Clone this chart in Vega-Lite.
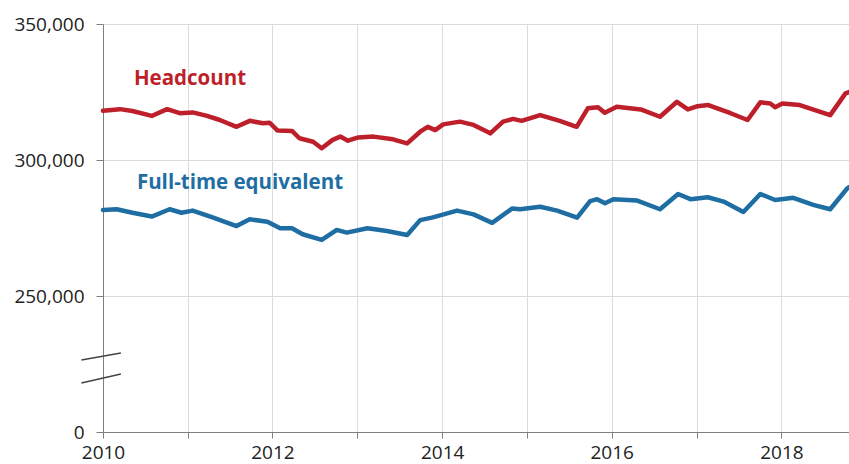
{
  "$schema": "https://vega.github.io/schema/vega-lite/v6.json",
  "width": 746,
  "height": 408,
  "autosize": {"type": "none"},
  "padding": {"left": 103, "top": 24, "right": 0, "bottom": 32},
  "background": "white",
  "config": {
    "view": {"stroke": null},
    "axis": {
      "labelFont": "Open Sans",
      "labelFontSize": 19,
      "labelColor": "#222222",
      "domainColor": "#7f7f7f",
      "tickColor": "#7f7f7f",
      "gridColor": "#dcdcdc",
      "gridWidth": 1,
      "title": null
    }
  },
  "datasets": {
    "series": [
      {"date": "2010-01-01", "series": "Headcount", "value": 318100},
      {"date": "2010-03-15", "series": "Headcount", "value": 318700},
      {"date": "2010-05-08", "series": "Headcount", "value": 318000},
      {"date": "2010-07-30", "series": "Headcount", "value": 316200},
      {"date": "2010-10-04", "series": "Headcount", "value": 318700},
      {"date": "2010-11-28", "series": "Headcount", "value": 317200},
      {"date": "2011-01-22", "series": "Headcount", "value": 317500},
      {"date": "2011-03-25", "series": "Headcount", "value": 316200},
      {"date": "2011-05-19", "series": "Headcount", "value": 314700},
      {"date": "2011-07-30", "series": "Headcount", "value": 312200},
      {"date": "2011-09-25", "series": "Headcount", "value": 314400},
      {"date": "2011-11-21", "series": "Headcount", "value": 313500},
      {"date": "2011-12-20", "series": "Headcount", "value": 313700},
      {"date": "2012-01-23", "series": "Headcount", "value": 310800},
      {"date": "2012-03-25", "series": "Headcount", "value": 310700},
      {"date": "2012-04-26", "series": "Headcount", "value": 308000},
      {"date": "2012-06-24", "series": "Headcount", "value": 306700},
      {"date": "2012-07-31", "series": "Headcount", "value": 304300},
      {"date": "2012-09-16", "series": "Headcount", "value": 307400},
      {"date": "2012-10-19", "series": "Headcount", "value": 308600},
      {"date": "2012-11-21", "series": "Headcount", "value": 307100},
      {"date": "2013-01-05", "series": "Headcount", "value": 308300},
      {"date": "2013-03-11", "series": "Headcount", "value": 308600},
      {"date": "2013-06-03", "series": "Headcount", "value": 307600},
      {"date": "2013-08-03", "series": "Headcount", "value": 306100},
      {"date": "2013-09-28", "series": "Headcount", "value": 310400},
      {"date": "2013-10-31", "series": "Headcount", "value": 312200},
      {"date": "2013-12-02", "series": "Headcount", "value": 311000},
      {"date": "2014-01-05", "series": "Headcount", "value": 313100},
      {"date": "2014-03-18", "series": "Headcount", "value": 314100},
      {"date": "2014-05-16", "series": "Headcount", "value": 312900},
      {"date": "2014-07-27", "series": "Headcount", "value": 309800},
      {"date": "2014-09-20", "series": "Headcount", "value": 314100},
      {"date": "2014-11-02", "series": "Headcount", "value": 315100},
      {"date": "2014-12-09", "series": "Headcount", "value": 314400},
      {"date": "2015-02-27", "series": "Headcount", "value": 316500},
      {"date": "2015-05-22", "series": "Headcount", "value": 314400},
      {"date": "2015-08-03", "series": "Headcount", "value": 312200},
      {"date": "2015-09-20", "series": "Headcount", "value": 319000},
      {"date": "2015-11-03", "series": "Headcount", "value": 319400},
      {"date": "2015-12-02", "series": "Headcount", "value": 317400},
      {"date": "2016-01-23", "series": "Headcount", "value": 319600},
      {"date": "2016-05-05", "series": "Headcount", "value": 318600},
      {"date": "2016-07-27", "series": "Headcount", "value": 315900},
      {"date": "2016-10-08", "series": "Headcount", "value": 321400},
      {"date": "2016-11-24", "series": "Headcount", "value": 318600},
      {"date": "2017-01-05", "series": "Headcount", "value": 319800},
      {"date": "2017-02-20", "series": "Headcount", "value": 320200},
      {"date": "2017-05-27", "series": "Headcount", "value": 317200},
      {"date": "2017-08-08", "series": "Headcount", "value": 314700},
      {"date": "2017-10-02", "series": "Headcount", "value": 321200},
      {"date": "2017-11-14", "series": "Headcount", "value": 320800},
      {"date": "2017-12-05", "series": "Headcount", "value": 319400},
      {"date": "2018-01-05", "series": "Headcount", "value": 320800},
      {"date": "2018-03-21", "series": "Headcount", "value": 320200},
      {"date": "2018-07-30", "series": "Headcount", "value": 316500},
      {"date": "2018-10-04", "series": "Headcount", "value": 324500},
      {"date": "2018-10-19", "series": "Headcount", "value": 325000},
      {"date": "2010-01-01", "series": "Full-time equivalent", "value": 281600},
      {"date": "2010-03-01", "series": "Full-time equivalent", "value": 281900},
      {"date": "2010-05-08", "series": "Full-time equivalent", "value": 280600},
      {"date": "2010-07-30", "series": "Full-time equivalent", "value": 279200},
      {"date": "2010-10-15", "series": "Full-time equivalent", "value": 281900},
      {"date": "2010-12-05", "series": "Full-time equivalent", "value": 280600},
      {"date": "2011-01-22", "series": "Full-time equivalent", "value": 281400},
      {"date": "2011-04-18", "series": "Full-time equivalent", "value": 278900},
      {"date": "2011-07-30", "series": "Full-time equivalent", "value": 275700},
      {"date": "2011-09-25", "series": "Full-time equivalent", "value": 278200},
      {"date": "2011-12-10", "series": "Full-time equivalent", "value": 277300},
      {"date": "2012-02-03", "series": "Full-time equivalent", "value": 274900},
      {"date": "2012-03-25", "series": "Full-time equivalent", "value": 274900},
      {"date": "2012-05-10", "series": "Full-time equivalent", "value": 272700},
      {"date": "2012-07-31", "series": "Full-time equivalent", "value": 270600},
      {"date": "2012-10-04", "series": "Full-time equivalent", "value": 274300},
      {"date": "2012-11-16", "series": "Full-time equivalent", "value": 273300},
      {"date": "2013-02-13", "series": "Full-time equivalent", "value": 274900},
      {"date": "2013-05-08", "series": "Full-time equivalent", "value": 273900},
      {"date": "2013-08-03", "series": "Full-time equivalent", "value": 272400},
      {"date": "2013-09-28", "series": "Full-time equivalent", "value": 277900},
      {"date": "2013-11-22", "series": "Full-time equivalent", "value": 278900},
      {"date": "2014-03-06", "series": "Full-time equivalent", "value": 281400},
      {"date": "2014-05-16", "series": "Full-time equivalent", "value": 280000},
      {"date": "2014-08-04", "series": "Full-time equivalent", "value": 276900},
      {"date": "2014-10-30", "series": "Full-time equivalent", "value": 282200},
      {"date": "2014-12-02", "series": "Full-time equivalent", "value": 281900},
      {"date": "2015-02-27", "series": "Full-time equivalent", "value": 282800},
      {"date": "2015-05-11", "series": "Full-time equivalent", "value": 281400},
      {"date": "2015-08-05", "series": "Full-time equivalent", "value": 278800},
      {"date": "2015-09-30", "series": "Full-time equivalent", "value": 284900},
      {"date": "2015-10-30", "series": "Full-time equivalent", "value": 285600},
      {"date": "2015-12-03", "series": "Full-time equivalent", "value": 284100},
      {"date": "2016-01-08", "series": "Full-time equivalent", "value": 285600},
      {"date": "2016-04-20", "series": "Full-time equivalent", "value": 285100},
      {"date": "2016-07-27", "series": "Full-time equivalent", "value": 281900},
      {"date": "2016-10-13", "series": "Full-time equivalent", "value": 287500},
      {"date": "2016-12-05", "series": "Full-time equivalent", "value": 285600},
      {"date": "2017-02-18", "series": "Full-time equivalent", "value": 286300},
      {"date": "2017-04-27", "series": "Full-time equivalent", "value": 284700},
      {"date": "2017-07-21", "series": "Full-time equivalent", "value": 280900},
      {"date": "2017-10-02", "series": "Full-time equivalent", "value": 287500},
      {"date": "2017-12-05", "series": "Full-time equivalent", "value": 285300},
      {"date": "2018-02-21", "series": "Full-time equivalent", "value": 286100},
      {"date": "2018-05-18", "series": "Full-time equivalent", "value": 283500},
      {"date": "2018-07-30", "series": "Full-time equivalent", "value": 281900},
      {"date": "2018-10-12", "series": "Full-time equivalent", "value": 289600},
      {"date": "2018-10-19", "series": "Full-time equivalent", "value": 290000}
    ],
    "labels": [
      {"date": "2010-05-14", "value": 329800, "label": "Headcount"},
      {"date": "2010-05-27", "value": 291600, "label": "Full-time equivalent"}
    ],
    "breaks": [
      {"x1": "2009-09-30", "x2": "2010-03-19", "y1": 132353, "y2": 145221},
      {"x1": "2009-09-30", "x2": "2010-03-19", "y1": 90074, "y2": 106618}
    ]
  },
  "layer": [
    {
      "data": {"name": "series"},
      "mark": {"type": "line", "strokeWidth": 4.5, "strokeJoin": "round", "strokeCap": "round"},
      "encoding": {
        "x": {
          "field": "date",
          "type": "temporal",
          "scale": {"domain": [{"year": 2010, "month": 1, "date": 1}, {"year": 2018, "month": 10, "date": 19}], "nice": false},
          "axis": {
            "values": [{"year": 2010}, {"year": 2011}, {"year": 2012}, {"year": 2013}, {"year": 2014}, {"year": 2015}, {"year": 2016}, {"year": 2017}, {"year": 2018}],
            "format": "%Y",
            "labelExpr": "toNumber(datum.label) % 2 == 0 ? datum.label : ''",
            "grid": true,
            "tickSize": 6,
            "labelPadding": 5,
            "labelFlush": false,
            "labelOverlap": false
          }
        },
        "y": {
          "field": "value",
          "type": "quantitative",
          "scale": {"domain": [0, 250000, 350000], "range": [408, 272, 0], "nice": false, "zero": false},
          "axis": {
            "values": [0, 250000, 300000, 350000],
            "format": ",d",
            "grid": true,
            "tickSize": 7,
            "labelPadding": 12
          }
        },
        "color": {
          "field": "series",
          "type": "nominal",
          "scale": {"domain": ["Headcount", "Full-time equivalent"], "range": ["#bd1f2b", "#1f6ea3"]},
          "legend": null
        }
      }
    },
    {
      "data": {"name": "labels"},
      "mark": {"type": "text", "align": "left", "baseline": "middle", "font": "Open Sans", "fontWeight": "bold", "fontSize": 20.5},
      "encoding": {
        "x": {"field": "date", "type": "temporal"},
        "y": {"field": "value", "type": "quantitative"},
        "text": {"field": "label"},
        "color": {"field": "label", "type": "nominal", "legend": null}
      }
    },
    {
      "data": {"name": "breaks"},
      "mark": {"type": "rule", "stroke": "#444444", "strokeWidth": 1.5},
      "encoding": {
        "x": {"field": "x1", "type": "temporal"},
        "x2": {"field": "x2"},
        "y": {"field": "y1", "type": "quantitative"},
        "y2": {"field": "y2"}
      }
    }
  ]
}
